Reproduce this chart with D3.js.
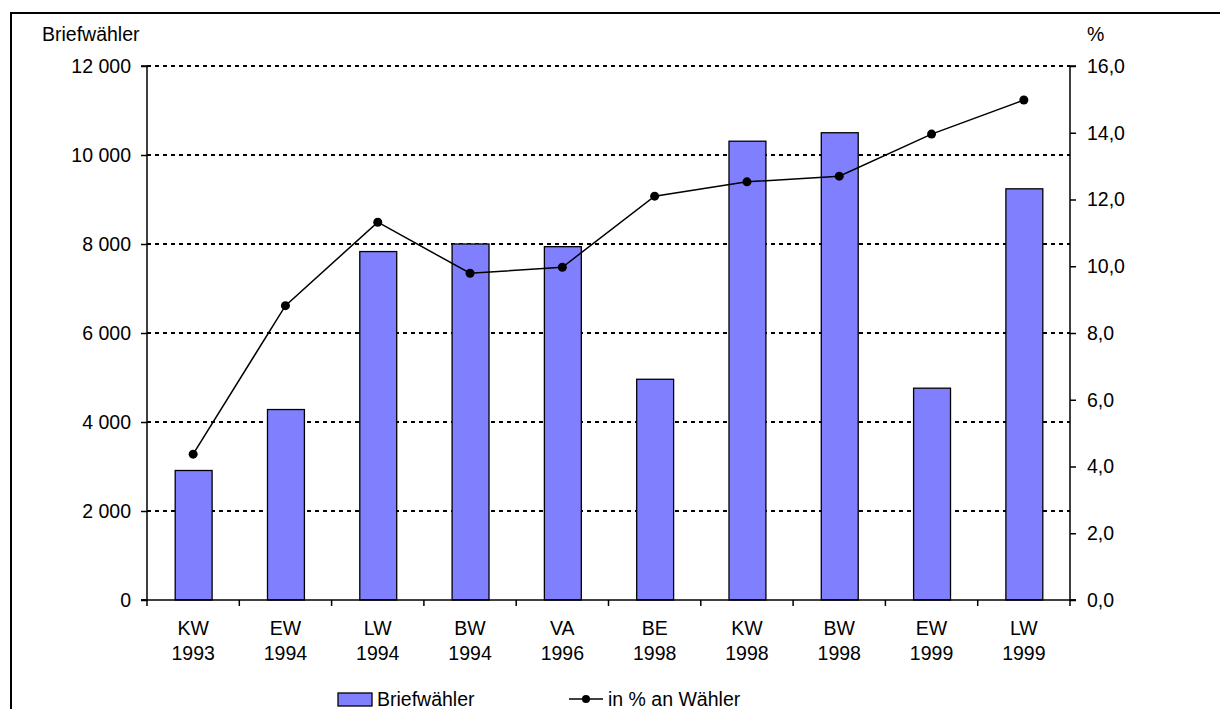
<!DOCTYPE html>
<html><head><meta charset="utf-8">
<script src="https://cdn.jsdelivr.net/npm/d3@7/dist/d3.min.js"></script>
<style>
html,body{margin:0;padding:0;background:#fff;}
svg text{font-family:"Liberation Sans",Arial,sans-serif;fill:#000;}
</style></head>
<body>
<svg id="c" width="1220" height="709"></svg>
<script>
const catCodes = ["KW","EW","LW","BW","VA","BE","KW","BW","EW","LW"];
const catYears = ["1993","1994","1994","1994","1996","1998","1998","1998","1999","1999"];
const briefwaehler = [2910, 4280, 7830, 8000, 7940, 4960, 10310, 10500, 4760, 9240];
const prozent = [4.37, 8.82, 11.32, 9.79, 9.97, 12.10, 12.53, 12.70, 13.96, 14.98];
const leftTicks = [0,2000,4000,6000,8000,10000,12000];
const rightTicks = [0,2,4,6,8,10,12,14,16];

const FS = 19.5;
const svg = d3.select("#c");
const L = 147, R = 1070, T = 66, B = 600;

// frame
svg.append("path").attr("d","M11,720 L11,13 L1230,13").attr("fill","none").attr("stroke","#000").attr("stroke-width",2);

const idx = d3.range(catCodes.length);
const x = d3.scaleBand().domain(idx).range([L,R]).paddingInner(0.6).paddingOuter(0.3);
const xb = d3.scaleBand().domain(idx).range([L,R]);
const yL = d3.scaleLinear().domain([0,12000]).range([B,T]);
const yR = d3.scaleLinear().domain([0,16]).range([B,T]);
const fmtL = d => d3.format(",")(d).replace(/,/g," ");
const fmtR = d => d.toFixed(1).replace(".",",");

// gridlines
svg.append("g").selectAll("line").data(leftTicks.filter(d=>d>0)).join("line")
  .attr("x1",L).attr("x2",R).attr("y1",d=>yL(d)).attr("y2",d=>yL(d))
  .attr("stroke","#000").attr("stroke-width",2).attr("stroke-dasharray","4,4");

// bars
svg.append("g").selectAll("rect").data(briefwaehler).join("rect")
  .attr("x",(d,i)=>x(i)+0.5).attr("width",x.bandwidth())
  .attr("y",d=>yL(d)).attr("height",d=>B-yL(d))
  .attr("fill","#8080FF").attr("stroke","#000").attr("stroke-width",1.3);

// left axis
const gl = svg.append("g").attr("transform",`translate(${L},0)`)
  .call(d3.axisLeft(yL).tickValues(leftTicks).tickFormat(fmtL).tickSize(6).tickPadding(10));
// right axis
const gr = svg.append("g").attr("transform",`translate(${R},0)`)
  .call(d3.axisRight(yR).tickValues(rightTicks).tickFormat(fmtR).tickSize(6).tickPadding(11));
[gl,gr].forEach(g=>{
  g.select(".domain").attr("stroke","#000").attr("stroke-width",1.5);
  g.selectAll(".tick line").attr("stroke","#000").attr("stroke-width",1.5);
  g.selectAll(".tick text").attr("font-size",FS).attr("font-family","Liberation Sans, Arial, sans-serif");
});
gl.select(".domain").attr("d",`M-6,${T}H0V${B}H-6`);
gr.select(".domain").attr("d",`M6,${T}H0V${B}H6`);

// x axis
const gx = svg.append("g");
gx.append("line").attr("x1",L-6).attr("x2",R+6).attr("y1",B).attr("y2",B).attr("stroke","#000").attr("stroke-width",1.5);
gx.selectAll("line.t").data(d3.range(catCodes.length+1)).join("line").attr("class","t")
  .attr("x1",i=>L+i*xb.step()).attr("x2",i=>L+i*xb.step()).attr("y1",B).attr("y2",B+6)
  .attr("stroke","#000").attr("stroke-width",1.5);
const lab = gx.selectAll("text").data(idx).join("text")
  .attr("text-anchor","middle").attr("font-size",FS);
lab.append("tspan").attr("x",i=>xb(i)+xb.bandwidth()/2).attr("y",635).text(i=>catCodes[i]);
lab.append("tspan").attr("x",i=>xb(i)+xb.bandwidth()/2).attr("y",660).text(i=>catYears[i]);

// line
const cx = i => xb(i)+xb.bandwidth()/2;
svg.append("path").datum(prozent)
  .attr("d",d3.line().x((d,i)=>cx(i)).y(d=>yR(d)))
  .attr("fill","none").attr("stroke","#000").attr("stroke-width",1.5);
svg.append("g").selectAll("circle").data(prozent).join("circle")
  .attr("cx",(d,i)=>cx(i)).attr("cy",d=>yR(d)).attr("r",4.5).attr("fill","#000");

// axis titles
svg.append("text").attr("x",42).attr("y",41).attr("font-size",FS).text("Briefwähler");
svg.append("text").attr("x",1087).attr("y",41).attr("font-size",FS).text("%");

// legend
svg.append("rect").attr("x",338).attr("y",693).attr("width",34).attr("height",13)
  .attr("fill","#8080FF").attr("stroke","#000").attr("stroke-width",1.3);
svg.append("text").attr("x",377).attr("y",706).attr("font-size",FS).text("Briefwähler");
svg.append("line").attr("x1",569).attr("x2",603).attr("y1",699).attr("y2",699).attr("stroke","#000").attr("stroke-width",1.5);
svg.append("circle").attr("cx",586).attr("cy",699).attr("r",4).attr("fill","#000");
svg.append("text").attr("x",608).attr("y",706).attr("font-size",FS).text("in % an Wähler");
</script>
</body></html>
